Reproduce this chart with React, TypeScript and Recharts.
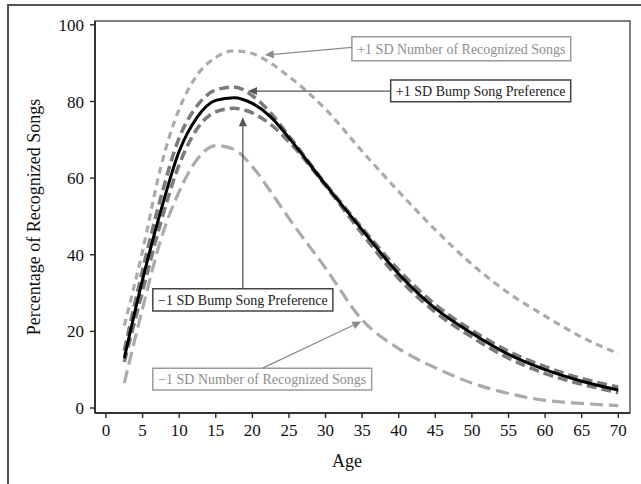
import { LineChart, Line, XAxis, YAxis, ReferenceArea, ReferenceLine } from 'recharts'

const AGES = [2.5, 5, 7.5, 10, 12.5, 15, 17.5, 20, 22.5, 25, 30, 35, 40, 45, 50, 55, 60, 65, 70]
const MEAN = [13, 33.5, 51.5, 67, 76, 80.3, 81, 79.5, 76, 70.5, 58.3, 46.5, 35, 26, 19.5, 14, 10, 7, 4.7]
const BUMP_HI = [15, 36, 55, 70.5, 79, 83, 83.8, 81.5, 77, 71, 58.5, 47, 36, 27, 20.3, 14.8, 10.8, 7.7, 5.5]
const BUMP_LO = [12, 30.5, 48.5, 63.5, 73, 77.3, 78.2, 77, 74, 69.5, 58, 45.5, 33.8, 25, 18.5, 13, 9, 6.2, 4]
const NUM_HI = [21.5, 41, 63, 78, 87, 91.5, 93.2, 92.5, 90, 86.5, 78, 67, 56.5, 46.5, 37.5, 30, 24, 18.5, 14.2]
const NUM_LO = [6.5, 26, 44, 56.5, 65, 68.5, 67.5, 63, 56.5, 49.5, 36.5, 23, 15.5, 10.5, 6.5, 3.8, 2, 1.2, 0.6]

const X_TICKS = [0, 5, 10, 15, 20, 25, 30, 35, 40, 45, 50, 55, 60, 65, 70]
const Y_TICKS = [0, 20, 40, 60, 80, 100]

const LIGHT = '#ababab'
const DARK = '#7b7b7b'
const SERIF = 'Liberation Serif'

const data = AGES.map((age, i) => ({
  age,
  mean: MEAN[i],
  bumpHi: BUMP_HI[i],
  bumpLo: BUMP_LO[i],
  numHi: NUM_HI[i],
  numLo: NUM_LO[i],
}))

// annotation boxes, in data units
const boxes = [
  { text: '+1 SD Number of Recognized Songs', x: [33.6, 63.5], y: [90.6, 96.9], color: '#8e8e8e', border: '#9a9a9a' },
  { text: '+1 SD Bump Song Preference', x: [38.9, 63.5], y: [79.9, 85.6], color: '#222', border: '#444' },
  { text: '\u22121 SD Bump Song Preference', x: [6.4, 31], y: [25.3, 31.1], color: '#222', border: '#444' },
  { text: '\u22121 SD Number of Recognized Songs', x: [6.4, 36.3], y: [4.7, 10.4], color: '#8e8e8e', border: '#9a9a9a' },
]

const arrows = [
  { from: { x: 33.6, y: 94.1 }, to: { x: 21.7, y: 92.1 }, color: '#8a8a8a' },
  { from: { x: 38.9, y: 82.7 }, to: { x: 19.4, y: 82.7 }, color: '#555' },
  { from: { x: 18.7, y: 31.1 }, to: { x: 18.7, y: 75.9 }, color: '#555' },
  { from: { x: 21.4, y: 10.4 }, to: { x: 34.9, y: 22.6 }, color: '#8a8a8a' },
]

function arrowShape(color: string) {
  return (p: any) => {
    const { x1, y1, x2, y2 } = p
    const a = Math.atan2(y2 - y1, x2 - x1)
    const L = 9, W = 4
    const bx = x2 - L * Math.cos(a), by = y2 - L * Math.sin(a)
    const pts = [
      `${x2},${y2}`,
      `${bx + W * Math.sin(a)},${by - W * Math.cos(a)}`,
      `${bx - W * Math.sin(a)},${by + W * Math.cos(a)}`,
    ].join(' ')
    return (
      <g>
        <line x1={x1} y1={y1} x2={bx} y2={by} stroke={color} strokeWidth={1.3} />
        <polygon points={pts} fill={color} />
      </g>
    )
  }
}

const tickStyle = { fill: '#111', fontSize: 17, fontFamily: SERIF }

export default function App() {
  return (
    <div style={{ position: 'absolute', left: 0, top: 0, width: 641, height: 484, background: '#fff', fontFamily: SERIF }}>
      <div style={{ position: 'absolute', left: 7, top: 4, width: 640, height: 480, borderTop: '2px solid #555', borderLeft: '2px solid #555' }} />
      <div style={{ position: 'absolute', left: 0, top: 0 }}>
        <LineChart width={641} height={484} data={data} margin={{ top: 21, right: 11, bottom: 21, left: 0 }}>
          <XAxis
            dataKey="age"
            type="number"
            domain={[-1.5, 71.6]}
            ticks={X_TICKS}
            height={50}
            tick={tickStyle}
            tickSize={5}
            tickMargin={6}
            axisLine={{ stroke: '#333', strokeWidth: 2 }}
            tickLine={{ stroke: '#333', strokeWidth: 1.5 }}
            allowDataOverflow
            label={() => (
              <text x={347} y={467} textAnchor="middle" fontSize={18} fontFamily={SERIF} fill="#111">Age</text>
            )}
          />
          <YAxis
            type="number"
            domain={[-1.3, 101]}
            ticks={Y_TICKS}
            width={95}
            tick={tickStyle}
            tickSize={5}
            tickMargin={6}
            axisLine={{ stroke: '#333', strokeWidth: 2 }}
            tickLine={{ stroke: '#333', strokeWidth: 1.5 }}
            allowDataOverflow
            label={() => (
              <text x={40} y={217} transform="rotate(-90 40 217)" textAnchor="middle" fontSize={18} fontFamily={SERIF} fill="#111">
                Percentage of Recognized Songs
              </text>
            )}
          />
          <ReferenceArea x1={-1.5} x2={71.6} y1={-1.3} y2={101} fill="none" stroke="#555" strokeWidth={1.5} />
          <Line type="monotone" dataKey="numHi" stroke={LIGHT} strokeWidth={3.2} strokeDasharray="7 5" dot={false} isAnimationActive={false} />
          <Line type="monotone" dataKey="numLo" stroke={LIGHT} strokeWidth={3.2} strokeDasharray="13 6" dot={false} isAnimationActive={false} />
          <Line type="monotone" dataKey="bumpHi" stroke={DARK} strokeWidth={3.5} strokeDasharray="10 5" dot={false} isAnimationActive={false} />
          <Line type="monotone" dataKey="bumpLo" stroke={DARK} strokeWidth={3.5} strokeDasharray="10 5" dot={false} isAnimationActive={false} />
          <Line type="monotone" dataKey="mean" stroke="#000" strokeWidth={3} dot={false} isAnimationActive={false} />
          {arrows.map((a, i) => (
            <ReferenceLine key={`ar-${i}`} segment={[a.from, a.to]} stroke={a.color} shape={arrowShape(a.color)} />
          ))}
          {boxes.map((b, i) => (
            <ReferenceArea
              key={`bx-${i}`}
              x1={b.x[0]}
              x2={b.x[1]}
              y1={b.y[0]}
              y2={b.y[1]}
              fill="#fff"
              fillOpacity={1}
              stroke={b.border}
              strokeWidth={1.5}
              label={{ value: b.text, position: 'center', fill: b.color, fontSize: 14, fontFamily: SERIF }}
            />
          ))}
        </LineChart>
      </div>
    </div>
  )
}
